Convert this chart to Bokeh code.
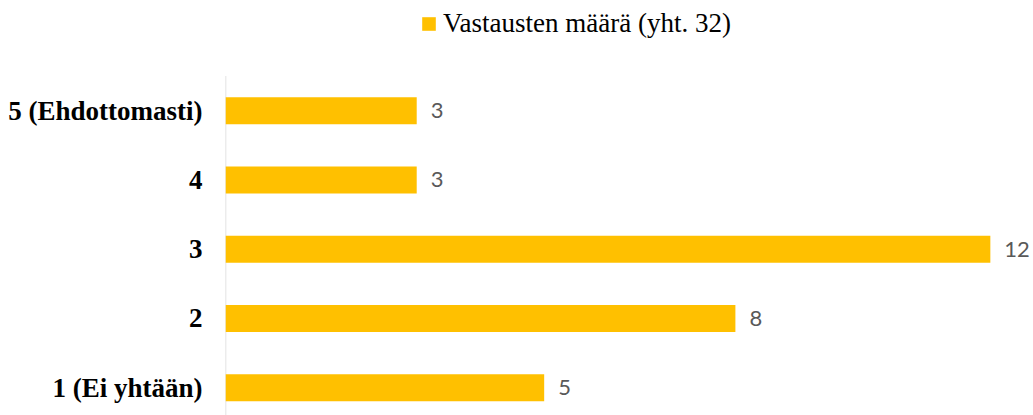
from bokeh.plotting import figure
from bokeh.models import ColumnDataSource, Range1d, FixedTicker, LabelSet, Legend, LegendItem
from bokeh.core.properties import value
from bokeh.embed import file_html
from bokeh.resources import INLINE

categories = ["1 (Ei yhtään)", "2", "3", "4", "5 (Ehdottomasti)"]
counts = [5, 8, 12, 3, 3]
series_name = "Vastausten määrä (yht. 32)"

positions = list(range(1, len(categories) + 1))
source = ColumnDataSource(dict(
    y=positions,
    count=counts,
    label=[str(c) for c in counts],
))

y_start, y_end = 0.599, 6.591
p = figure(
    output_backend="svg",
    toolbar_location=None,
    x_range=Range1d(0, 12.63),
    y_range=Range1d(y_start, y_end),
    frame_width=805,
    frame_height=415,
    min_border_left=225,
    min_border_top=0,
    min_border_bottom=0,
    min_border_right=0,
)
p.outline_line_color = None
p.background_fill_color = "white"
p.border_fill_color = "white"
p.xgrid.visible = False
p.ygrid.visible = False
p.xaxis.visible = False

# category axis line (light grey), spanning the category band only
p.segment(x0=[0], y0=[y_start], x1=[0], y1=[positions[-1] + 0.5],
          line_color="#d9d9d9", line_width=1.5)

r = p.hbar(y="y", right="count", left=0, height=0.39, source=source,
           fill_color="#FFC000", line_color=None)

yax = p.yaxis[0]
yax.ticker = FixedTicker(ticks=positions)
yax.major_label_overrides = {pos: cat for pos, cat in zip(positions, categories)}
yax.major_tick_line_color = None
yax.minor_tick_line_color = None
yax.major_tick_out = 0
yax.major_tick_in = 0
yax.axis_line_color = None
yax.major_label_standoff = 23
yax.major_label_text_font = "Liberation Serif"
yax.major_label_text_font_style = "bold"
yax.major_label_text_font_size = "27px"
yax.major_label_text_color = "#000000"

labels = LabelSet(x="count", y="y", text="label", source=source,
                  x_offset=14, text_baseline="middle", text_align="left",
                  text_font=value("Lato"), text_font_size=value("22px"),
                  text_color=value("#595959"))
p.add_layout(labels)

leg = Legend(
    items=[LegendItem(label=series_name, renderers=[r])],
    location=(195, 376),
    orientation="horizontal",
    border_line_color=None,
    background_fill_alpha=0,
    padding=0,
    margin=0,
    glyph_width=17,
    glyph_height=17,
    label_standoff=6,
    label_text_font="'Liberation Serif', 'Times New Roman', serif",
    label_text_font_style="normal",
    label_text_font_size="27px",
    label_text_color="#000000",
    label_height=20,
)
p.add_layout(leg, "center")

open("out.html", "w").write(file_html(p, INLINE))
